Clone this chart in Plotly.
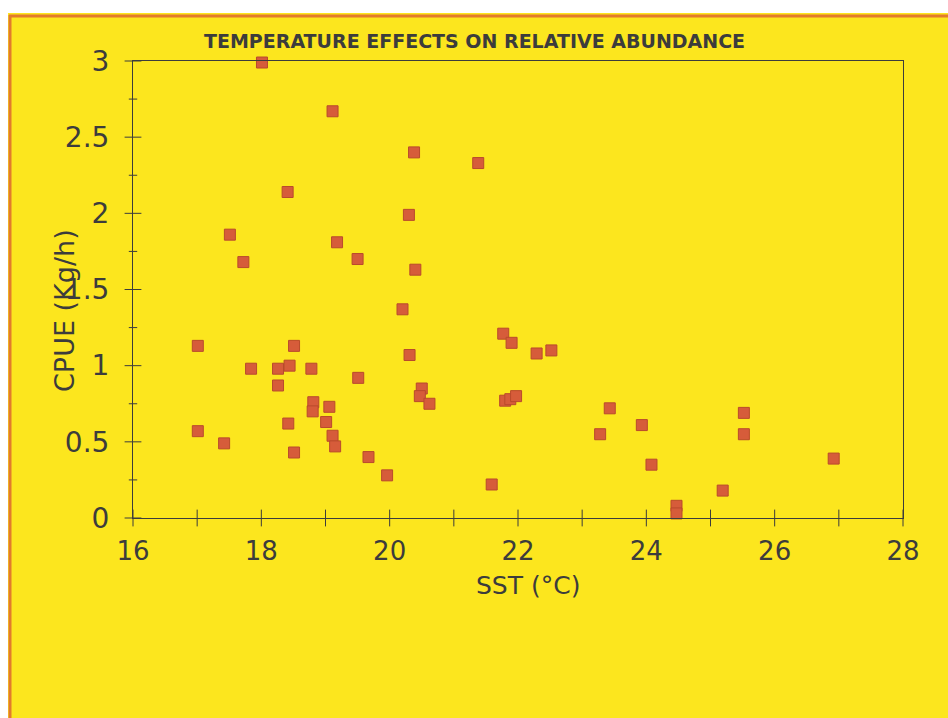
import plotly.graph_objects as go

# ---- data ----
sst = [18.01, 19.11, 20.38, 21.38, 18.41, 20.30, 17.51, 19.18, 19.50, 17.72,
       20.40, 20.20, 17.01, 18.51, 17.84, 18.26, 18.44, 18.78, 18.26, 20.31,
       19.51, 20.50, 20.47, 20.62, 18.81, 18.80, 19.06, 19.01, 18.42, 19.11,
       19.15, 17.01, 17.42, 18.51, 19.67, 19.96, 21.59, 21.77, 21.90, 21.80,
       21.88, 21.97, 22.29, 22.52, 23.43, 23.28, 23.93, 24.08, 25.19, 25.52,
       25.52, 26.92, 24.47, 24.47]
cpue = [2.99, 2.67, 2.40, 2.33, 2.14, 1.99, 1.86, 1.81, 1.70, 1.68,
        1.63, 1.37, 1.13, 1.13, 0.98, 0.98, 1.00, 0.98, 0.87, 1.07,
        0.92, 0.85, 0.80, 0.75, 0.76, 0.70, 0.73, 0.63, 0.62, 0.54,
        0.47, 0.57, 0.49, 0.43, 0.40, 0.28, 0.22, 1.21, 1.15, 0.77,
        0.78, 0.80, 1.08, 1.10, 0.72, 0.55, 0.61, 0.35, 0.18, 0.69,
        0.55, 0.39, 0.08, 0.03]
x_ticks = [16, 18, 20, 22, 24, 26, 28]
x_all_ticks = [16, 17, 18, 19, 20, 21, 22, 23, 24, 25, 26, 27, 28]
y_ticks = [0, 0.5, 1, 1.5, 2, 2.5, 3]
y_minor_ticks = [0.25, 0.75, 1.25, 1.75, 2.25, 2.75]
y_tick_text = ["0", "0.5", "1", "1.5", "2", "2.5", "3"]
title_text = "TEMPERATURE EFFECTS ON RELATIVE ABUNDANCE"
x_title = "SST (°C)"
y_title = "CPUE (Kg/h)"

# ---- styling ----
W, H = 948, 718
L, R, T, B = 133, 45, 61, 200
YELLOW = "#fce61e"
ORANGE = "#e27b2c"
MARK = "#d65c3a"
MARK_EDGE = "#b94a2c"
INK = "#3c3c3c"
FONT = "DejaVu Sans"
X0, Y0 = 16, 0

pw, ph = W - L - R, H - T - B


def px(x):
    return (x - L) / pw


def py(y):
    return (H - B - y) / ph


fig = go.Figure()
fig.add_trace(go.Scatter(
    x=sst, y=cpue, mode="markers",
    marker=dict(symbol="square", size=11, color=MARK,
                line=dict(color=MARK_EDGE, width=1)),
    cliponaxis=False, showlegend=False, hoverinfo="x+y"))

# crossing tick marks on the axes
tick_style = dict(mode="markers", cliponaxis=False, showlegend=False,
                  hoverinfo="skip")
fig.add_trace(go.Scatter(
    x=x_all_ticks, y=[Y0] * len(x_all_ticks),
    marker=dict(symbol="line-ns", size=12, color=INK,
                line=dict(color=INK, width=1)), **tick_style))
fig.add_trace(go.Scatter(
    x=[X0] * len(y_ticks), y=y_ticks,
    marker=dict(symbol="line-ew", size=12, color=INK,
                line=dict(color=INK, width=1)), **tick_style))
fig.add_trace(go.Scatter(
    x=[X0] * len(y_minor_ticks), y=y_minor_ticks,
    marker=dict(symbol="line-ew", size=6, color=INK,
                line=dict(color=INK, width=1)), **tick_style))

axis_common = dict(showgrid=False, zeroline=False, linecolor=INK, linewidth=1,
                   ticks="", mirror=True)

fig.update_layout(
    width=W, height=H,
    margin=dict(l=L, r=R, t=T, b=B, pad=0),
    paper_bgcolor=YELLOW, plot_bgcolor=YELLOW,
    xaxis=dict(range=[16, 28], tickmode="array", tickvals=x_ticks,
               ticktext=[str(v) for v in x_ticks],
               tickfont=dict(family=FONT, size=26, color=INK),
               ticklabelstandoff=10, **axis_common),
    yaxis=dict(range=[0, 3], tickmode="array", tickvals=y_ticks,
               ticktext=y_tick_text,
               tickfont=dict(family=FONT, size=28, color=INK),
               ticklabelstandoff=17, **axis_common),
    annotations=[
        dict(text=title_text, xref="paper", yref="paper", x=px(474), y=py(41),
             xanchor="center", yanchor="middle", showarrow=False,
             font=dict(family=FONT, size=19, color=INK, weight="bold")),
        dict(text=x_title, xref="paper", yref="paper", x=px(528), y=py(585),
             xanchor="center", yanchor="middle", showarrow=False,
             font=dict(family=FONT, size=25, color=INK)),
        dict(text=y_title, xref="paper", yref="paper", x=px(64), y=py(311),
             xanchor="center", yanchor="middle", showarrow=False, textangle=-90,
             font=dict(family=FONT, size=27, color=INK)),
    ],
    shapes=[
        dict(type="rect", xref="paper", yref="paper", x0=px(0), x1=px(W),
             y0=py(0), y1=py(13), fillcolor="white", line=dict(width=0),
             layer="below"),
        dict(type="rect", xref="paper", yref="paper", x0=px(0), x1=px(8),
             y0=py(0), y1=py(H), fillcolor="white", line=dict(width=0),
             layer="below"),
        dict(type="line", xref="paper", yref="paper", x0=px(9), x1=px(W),
             y0=py(16), y1=py(16), line=dict(color=ORANGE, width=3)),
        dict(type="line", xref="paper", yref="paper", x0=px(10), x1=px(10),
             y0=py(15), y1=py(H), line=dict(color=ORANGE, width=3)),
    ],
)

fig.write_html("out.html")
